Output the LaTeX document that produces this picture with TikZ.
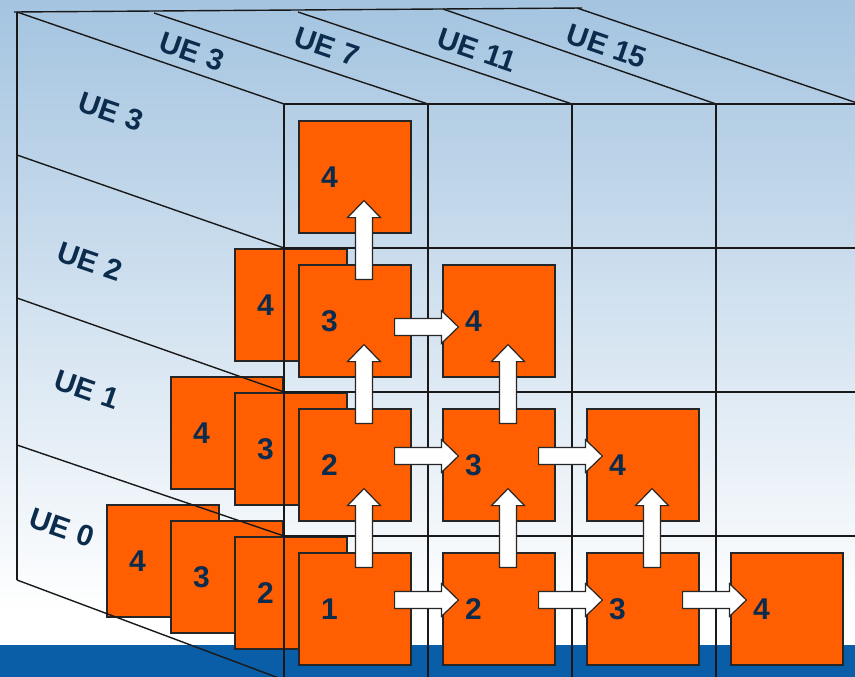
\documentclass[tikz,border=0pt]{standalone}
\usepackage{fontspec}
\setmainfont{Liberation Sans}
\usetikzlibrary{calc}
\definecolor{bgtop}{HTML}{A4C4E0}
\definecolor{ueblue}{HTML}{0A5EA7}
\definecolor{ueorange}{HTML}{FF5F00}
\definecolor{uenavy}{HTML}{0C2C4E}
\begin{document}
\begin{tikzpicture}[x=1pt, y=-1pt,
    edge/.style={draw=black!90, line width=1.4pt},
    blk/.style={draw=black!85, fill=ueorange, line width=1.2pt,
        minimum width=112pt, minimum height=112pt, inner xsep=22pt, inner ysep=0pt,
        text width=68pt, align=left, text=uenavy,
        font=\fontsize{30}{30}\selectfont\bfseries},
    ue/.style={text=uenavy, rotate=-19, inner sep=1pt, font=\fontsize{29.5}{30}\selectfont\bfseries},
    fat/.style={draw=black!85, fill=white, line width=1.2pt,
        to path={let \p1=(\tikztostart), \p2=(\tikztotarget), \p3=($(\p2)!17pt!(\p1)$) in
            ($(\p1)!8.5pt!90:(\p2)$) -- ($(\p3)!8.5pt!90:(\p2)$) -- ($(\p3)!16.5pt!90:(\p2)$)
            -- (\p2) -- ($(\p3)!16.5pt!-90:(\p2)$) -- ($(\p3)!8.5pt!-90:(\p2)$)
            -- ($(\p1)!8.5pt!-90:(\p2)$) -- cycle}}]
    \useasboundingbox (0,0) rectangle (855,677);
    \clip (0,0) rectangle (855,677);

    % backdrop
    \fill[top color=bgtop, bottom color=white] (0,0) rectangle (855,612);
    \fill[white] (0,612) rectangle (855,645);
    \fill[ueblue] (0,645) rectangle (855,677);

    % blocks pushed back along the UE rows
    \node[blk] (d03) at (163,561) {4};
    \node[blk] (d02) at (227,577) {3};
    \node[blk] (d12) at (227,433) {4};
    \node[blk] (d01) at (291,593) {2};
    \node[blk] (d11) at (291,449) {3};
    \node[blk] (d21) at (291,305) {4};

    % back edges and top face
    \draw[edge] (14,12) -- (582,8);
    \draw[edge] (17,12) -- (17,580);
    \draw[edge] (17,12) -- (284,104);
    \draw[edge] (154,13) -- (428,104);
    \draw[edge] (298,12) -- (572,104);
    \draw[edge] (443,9) -- (716,104);
    \draw[edge] (577,8) -- (860,104);
    % left face
    \draw[edge] (17,155) -- (284,248);
    \draw[edge] (17,298) -- (284,392);
    \draw[edge] (17,445) -- (284,536);
    \draw[edge] (17,580) -- (284,680);
    % front grid
    \draw[edge] (284,104) -- (284,677) (428,104) -- (428,677)
        (572,104) -- (572,677) (716,104) -- (716,677);
    \draw[edge] (284,104) -- (855,104) (284,248) -- (855,248)
        (284,392) -- (855,392) (284,536) -- (855,536);

    % front blocks
    \node[blk] (f00) at (355,609) {1};
    \node[blk] (f10) at (499,609) {2};
    \node[blk] (f20) at (643,609) {3};
    \node[blk] (f30) at (787,609) {4};
    \node[blk] (f01) at (355,465) {2};
    \node[blk] (f11) at (499,465) {3};
    \node[blk] (f21) at (643,465) {4};
    \node[blk] (f02) at (355,321) {3};
    \node[blk] (f12) at (499,321) {4};
    \node[blk] (f03) at (355,177) {4};

    % upward steps
    \draw[fat] ($(f00.north)+(9,15)$) to ($(f01.south)+(9,-33)$);
    \draw[fat] ($(f01.north)+(9,15)$) to ($(f02.south)+(9,-33)$);
    \draw[fat] ($(f02.north)+(9,15)$) to ($(f03.south)+(9,-33)$);
    \draw[fat] ($(f10.north)+(9,15)$) to ($(f11.south)+(9,-33)$);
    \draw[fat] ($(f11.north)+(9,15)$) to ($(f12.south)+(9,-33)$);
    \draw[fat] ($(f20.north)+(9,15)$) to ($(f21.south)+(9,-33)$);
    % sideways steps
    \draw[fat] ($(f00.east)+(-17,-9)$) to ($(f10.west)+(16,-9)$);
    \draw[fat] ($(f10.east)+(-17,-9)$) to ($(f20.west)+(16,-9)$);
    \draw[fat] ($(f20.east)+(-17,-9)$) to ($(f30.west)+(16,-9)$);
    \draw[fat] ($(f01.east)+(-17,-9)$) to ($(f11.west)+(16,-9)$);
    \draw[fat] ($(f11.east)+(-17,-9)$) to ($(f21.west)+(16,-9)$);
    \draw[fat] ($(f02.east)+(-17,6)$) to ($(f12.west)+(16,6)$);

    % row and column names
    \node[ue] (row3) at (111,112) {UE 3};
    \node[ue] (row2) at (90,262) {UE 2};
    \node[ue] (row1) at (87,390) {UE 1};
    \node[ue] (row0) at (62,528) {UE 0};
    \node[ue] (col3) at (192,52) {UE 3};
    \node[ue] (col7) at (327,47) {UE 7};
    \node[ue] (col11) at (477,50) {UE 11};
    \node[ue] (col15) at (607,46) {UE 15};

    \end{tikzpicture}
\end{document}
